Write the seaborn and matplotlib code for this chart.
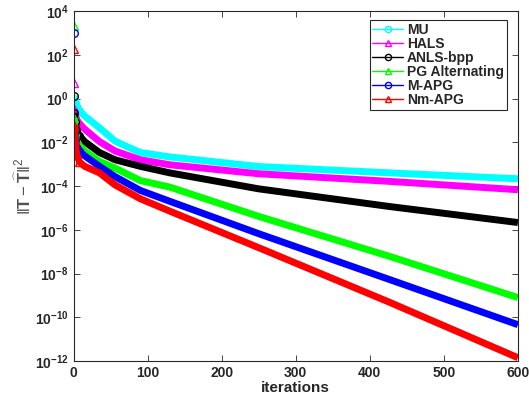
import numpy as np
import pandas as pd
import seaborn as sns
import matplotlib.pyplot as plt

iters = [0, 1, 2, 4, 8, 15, 35, 56, 90, 130, 250, 427, 600]

# log10 of ||T - T_hat||^2 for each method
mu_log = [0.0, -0.1, -0.2, -0.35, -0.55, -0.8, -1.34, -1.95, -2.47, -2.67, -3.11, -3.40, -3.67]
hals_log = [0.71, -0.47, -0.7, -0.95, -1.15, -1.4, -1.97, -2.4, -2.80, -3.03, -3.44, -3.79, -4.17]
anls_log = [0.12, -0.66, -1.07, -1.45, -1.7, -1.97, -2.47, -2.8, -3.1, -3.4, -4.13, -4.94, -5.67]
pg_log = [3.3, -0.89, -1.5, -1.9, -2.15, -2.4, -2.88, -3.18, -3.75, -4.05, -5.39, -7.22, -9.1]
mapg_log = [3.0, -1.57, -1.9, -2.2, -2.4, -2.62, -3.1, -3.57, -4.2, -4.7, -6.18, -8.28, -10.34]
nmapg_log = [2.26, -1.2, -1.9, -2.5, -2.9, -3.1, -3.4, -3.95, -4.58, -5.15, -6.82, -9.32, -11.85]

methods = ['MU', 'HALS', 'ANLS-bpp', 'PG Alternating', 'M-APG', 'Nm-APG']
series = [mu_log, hals_log, anls_log, pg_log, mapg_log, nmapg_log]
colors = ['#00ffff', '#ff00ff', '#000000', '#00ff00', '#0000ff', '#ff0000']
markers = ['o', '^', 'o', '^', 'o', '^']

sns.set_style('ticks')
plt.rcParams['font.family'] = ['Liberation Sans', 'DejaVu Sans']
plt.rcParams['font.weight'] = 'bold'
plt.rcParams['mathtext.fontset'] = 'custom'
plt.rcParams['mathtext.rm'] = 'Liberation Sans:weight=normal'
plt.rcParams['mathtext.bf'] = 'Liberation Sans:bold'
plt.rcParams['mathtext.it'] = 'Liberation Sans:italic'

fig = plt.figure(figsize=(5.29, 4.0), dpi=100)
ax = fig.add_axes([0.139, 0.0975, 0.840, 0.875])

handles = []
for name, vals, c, m in zip(methods, series, colors, markers):
    df = pd.DataFrame({'it': iters, 'err': 10.0 ** np.array(vals)})
    # thick band where markers pile up at every iteration
    sns.lineplot(data=df.iloc[1:], x='it', y='err', ax=ax, color=c, lw=5.0,
                 estimator=None, sort=False, solid_capstyle='butt')
    # thin line with open markers, visible only near the start
    sns.lineplot(data=df, x='it', y='err', ax=ax, color=c, lw=1.0,
                 marker=m, markersize=5.5, markerfacecolor='none',
                 markeredgecolor=c, markeredgewidth=1.0,
                 markevery=[0, 1, 2, 3, 4], estimator=None, sort=False)
    handles.append(ax.lines[-1])

ax.set_yscale('log')
ax.set_xlim(0, 600)
ax.set_ylim(1e-12, 1e4)
ax.set_xticks(range(0, 601, 100))
exps = list(range(-12, 5, 2))
ax.set_yticks([10.0 ** e for e in exps],
              labels=[r'$\mathbf{10^{%d}}$' % e for e in exps])
ax.minorticks_off()
ax.tick_params(direction='in', length=4, width=0.6, top=True, right=True,
               labelsize=10, colors='#262626')
for lab in ax.get_xticklabels():
    lab.set_fontweight('bold')
for s in ax.spines.values():
    s.set_visible(True)
    s.set_linewidth(0.8)
    s.set_color('#262626')

ax.set_xlabel('iterations', fontsize=11, fontweight='bold', color='#262626', labelpad=1)
ax.set_ylabel(r'$\|\mathbf{T} - \widehat{\mathbf{T}}\|^2$', fontsize=12,
              fontweight='normal', color='#505050', labelpad=1)

leg = ax.legend(handles, methods, loc='upper right', fontsize=10,
                bbox_to_anchor=(0.975, 0.973), fancybox=False, framealpha=1,
                edgecolor='#262626', handlelength=2.2, handletextpad=0.3,
                labelspacing=0.0, borderpad=0.2, borderaxespad=0)
leg.get_frame().set_linewidth(0.8)
for t in leg.get_texts():
    t.set_fontweight('bold')
for h in leg.legend_handles:
    h.set_markersize(4.5)

fig.savefig('out.png', dpi=100)
